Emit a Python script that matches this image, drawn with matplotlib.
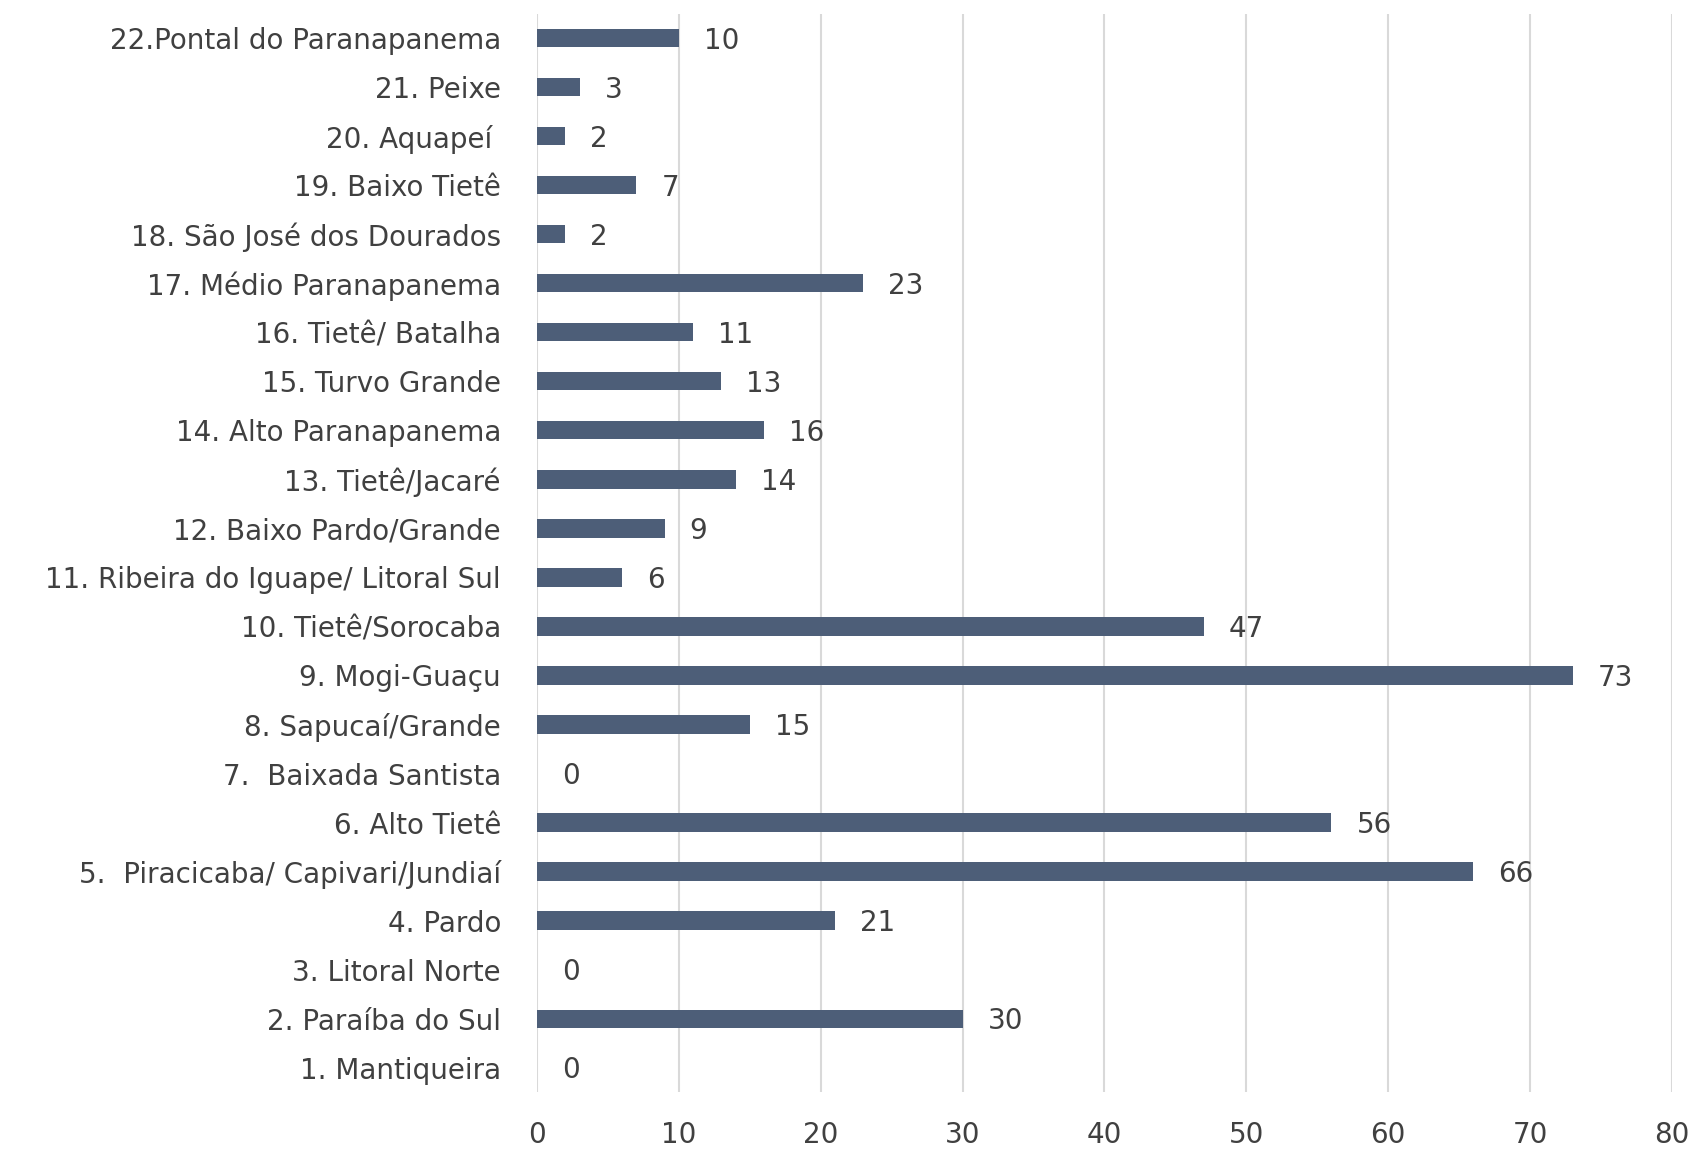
import matplotlib
matplotlib.use("Agg")
import matplotlib.pyplot as plt

categories = [
    "1. Mantiqueira",
    "2. Paraíba do Sul",
    "3. Litoral Norte",
    "4. Pardo",
    "5.  Piracicaba/ Capivari/Jundiaí",
    "6. Alto Tietê",
    "7.  Baixada Santista",
    "8. Sapucaí/Grande",
    "9. Mogi-Guaçu",
    "10. Tietê/Sorocaba",
    "11. Ribeira do Iguape/ Litoral Sul",
    "12. Baixo Pardo/Grande",
    "13. Tietê/Jacaré",
    "14. Alto Paranapanema",
    "15. Turvo Grande",
    "16. Tietê/ Batalha",
    "17. Médio Paranapanema",
    "18. São José dos Dourados",
    "19. Baixo Tietê",
    "20. Aquapeí ",
    "21. Peixe",
    "22.Pontal do Paranapanema",
]
values = [0, 30, 0, 21, 66, 56, 0, 15, 73, 47, 6, 9, 14, 16, 13, 11, 23, 2, 7, 2, 3, 10]
xticks = [0, 10, 20, 30, 40, 50, 60, 70, 80]

bar_color = "#4d5e78"
text_color = "#404040"
grid_color = "#d9d9d9"

plt.rcParams["font.family"] = ["DejaVu Sans"]

fig = plt.figure(figsize=(16.94, 11.52), dpi=100)
ax = fig.add_axes([0.317, 0.052, 0.670, 0.936])

y = list(range(len(categories)))
ax.barh(y, values, height=0.37, color=bar_color, zorder=3)

for yi, v in zip(y, values):
    ax.annotate(str(v), xy=(v, yi), xytext=(18, -2), textcoords="offset points",
                ha="left", va="center", fontsize=20, color=text_color)

ax.set_xlim(0, 80)
ax.set_ylim(-0.5, len(categories) - 0.5)
ax.set_xticks(xticks)
ax.set_xticklabels([str(t) for t in xticks])
ax.set_yticks(y)
ax.set_yticklabels(categories)

ax.tick_params(axis="y", length=0, pad=26, labelsize=20, labelcolor=text_color)
ax.tick_params(axis="x", length=0, pad=21, labelsize=20, labelcolor=text_color)

for s in ax.spines.values():
    s.set_visible(False)

ax.xaxis.grid(True, color=grid_color, linewidth=1.5, zorder=0)
ax.set_axisbelow(True)

fig.savefig("out.png", dpi=100)
